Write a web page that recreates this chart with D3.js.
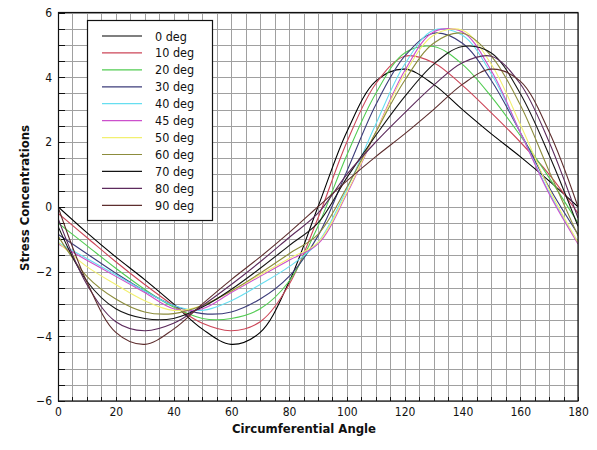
<!DOCTYPE html>
<html>
<head>
<meta charset="utf-8">
<script src="https://cdn.jsdelivr.net/npm/d3@7"></script>
<style>
  body { margin: 0; background: #fff; }
  svg { display: block; }
  text { font-family: "DejaVu Sans Condensed", "DejaVu Sans", sans-serif; fill: #111; }
</style>
</head>
<body>
<svg id="chart" width="597" height="450"></svg>
<script>
// Circumferential angle samples (degrees)
const angle = [0, 10, 20, 30, 40, 50, 60, 70, 80, 90, 100, 110, 120, 130, 140, 150, 160, 170, 180];

// Stress concentration around the hole, one series per fibre angle
const deg0  = [0, -0.8, -1.55, -2.25, -3.0, -3.78, -4.25, -3.88, -2.32, 0, 2.32, 3.88, 4.25, 3.78, 3.0, 2.25, 1.55, 0.8, 0];
const deg10 = [-0.2, -0.95, -1.7, -2.4, -3.05, -3.6, -3.83, -3.55, -2.4, -0.35, 2.0, 3.8, 4.65, 4.45, 3.75, 2.9, 2.0, 1.0, -0.2];
const deg20 = [-0.5, -1.2, -1.9, -2.55, -3.1, -3.45, -3.45, -3.15, -2.3, -0.6, 1.6, 3.5, 4.75, 4.95, 4.4, 3.4, 2.2, 0.9, -0.5];
const deg30 = [-0.85, -1.45, -2.05, -2.6, -3.05, -3.3, -3.25, -2.85, -2.15, -0.9, 1.1, 3.15, 4.65, 5.36, 5.05, 3.9, 2.3, 0.6, -0.85];
const deg40 = [-1.1, -1.6, -2.1, -2.6, -3.05, -3.2, -2.9, -2.4, -1.85, -1.1, 0.55, 2.55, 4.4, 5.45, 5.3, 4.1, 2.3, 0.45, -1.1];
const deg45 = [-1.15, -1.65, -2.15, -2.65, -3.15, -3.15, -2.65, -2.15, -1.65, -1.15, 0.4, 2.3, 4.2, 5.4, 5.4, 4.2, 2.3, 0.4, -1.15];
const deg50 = [-1.1, -1.85, -2.4, -2.9, -3.2, -3.05, -2.6, -2.1, -1.6, -1.1, 0.45, 2.3, 4.1, 5.3, 5.45, 4.4, 2.55, 0.55, -1.1];
const deg60 = [-0.9, -2.15, -2.85, -3.25, -3.3, -3.05, -2.6, -2.05, -1.45, -0.85, 0.6, 2.3, 3.9, 5.05, 5.36, 4.65, 3.15, 1.1, -0.9];
const deg70 = [-0.6, -2.3, -3.15, -3.45, -3.45, -3.1, -2.55, -1.9, -1.2, -0.5, 0.9, 2.2, 3.4, 4.4, 4.95, 4.75, 3.5, 1.6, -0.6];
const deg80 = [-0.35, -2.4, -3.55, -3.83, -3.6, -3.05, -2.4, -1.7, -0.95, -0.2, 1.0, 2.0, 2.9, 3.75, 4.45, 4.65, 3.8, 2.0, -0.35];
const deg90 = [0, -2.32, -3.88, -4.25, -3.78, -3.0, -2.25, -1.55, -0.8, 0, 0.8, 1.55, 2.25, 3.0, 3.78, 4.25, 3.88, 2.32, 0];

const seriesNames  = ["0 deg", "10 deg", "20 deg", "30 deg", "40 deg", "45 deg", "50 deg", "60 deg", "70 deg", "80 deg", "90 deg"];
const seriesValues = [deg0, deg10, deg20, deg30, deg40, deg45, deg50, deg60, deg70, deg80, deg90];
const seriesColors = ["#000000", "#cc4658", "#52cc52", "#3c3c7a", "#66def0", "#cc50cc",
                      "#f2f070", "#8c8c3c", "#141414", "#5c2a5c", "#5e2e2e"];

const xTicks = [0, 20, 40, 60, 80, 100, 120, 140, 160, 180];
const yTicks = [-6, -4, -2, 0, 2, 4, 6];

const svg = d3.select("#chart");
const plotL = 58, plotR = 578, plotT = 12.5, plotB = 401;

const x = d3.scaleLinear().domain([0, 180]).range([plotL, plotR]);
const y = d3.scaleLinear().domain([-6, 6]).range([plotB, plotT]);

// Fine grid: every 5 degrees, every 0.5 units
const xGrid = d3.range(0, 180.01, 5);
const yGrid = d3.range(-6, 6.01, 0.5);

const grid = svg.append("g").attr("stroke", "#a0a0a0").attr("stroke-width", 1).attr("shape-rendering", "crispEdges");
grid.selectAll("line.v").data(xGrid).join("line").attr("class", "v")
  .attr("x1", d => Math.round(x(d)) + 0.5).attr("x2", d => Math.round(x(d)) + 0.5)
  .attr("y1", plotT).attr("y2", plotB);
grid.selectAll("line.h").data(yGrid).join("line").attr("class", "h")
  .attr("y1", d => Math.round(y(d)) + 0.5).attr("y2", d => Math.round(y(d)) + 0.5)
  .attr("x1", plotL).attr("x2", plotR);

// Inward ticks on the left and bottom edges
const yTickAxis = svg.append("g").attr("transform", `translate(${plotL},0)`)
  .call(d3.axisRight(y).tickValues(yGrid).tickSize(7).tickFormat(""));
const xTickAxis = svg.append("g").attr("transform", `translate(0,${plotB})`)
  .call(d3.axisTop(x).tickValues(xGrid).tickSize(4).tickFormat(""));
[yTickAxis, xTickAxis].forEach(g => {
  g.select(".domain").remove();
  g.selectAll("line").attr("stroke", "#111").attr("shape-rendering", "crispEdges");
});

// Tick labels
const yLab = svg.append("g").attr("transform", `translate(${plotL},0)`)
  .call(d3.axisLeft(y).tickValues(yTicks).tickSize(0).tickPadding(6));
const xLab = svg.append("g").attr("transform", `translate(0,${plotB})`)
  .call(d3.axisBottom(x).tickValues(xTicks).tickSize(0).tickPadding(6));
[yLab, xLab].forEach(g => {
  g.select(".domain").remove();
  g.selectAll("text").attr("font-size", 12).attr("fill", "#222")
    .style("font-family", '"DejaVu Sans Condensed", "DejaVu Sans", sans-serif');
});

// Curves
svg.append("clipPath").attr("id", "plotClip").append("rect")
  .attr("x", plotL).attr("y", plotT).attr("width", plotR - plotL).attr("height", plotB - plotT);

const line = d3.line()
  .x((d, i) => x(angle[i]))
  .y(d => y(d))
  .curve(d3.curveCatmullRom.alpha(0.5));

svg.append("g").attr("clip-path", "url(#plotClip)")
  .selectAll("path").data(seriesValues).join("path")
  .attr("d", d => line(d))
  .attr("fill", "none")
  .attr("stroke", (d, i) => seriesColors[i])
  .attr("stroke-width", 1.1);

// Plot frame
svg.append("rect")
  .attr("x", plotL + 0.5).attr("y", plotT).attr("width", plotR - plotL - 0.5).attr("height", plotB - plotT)
  .attr("fill", "none").attr("stroke", "#111").attr("stroke-width", 1.2);

// Legend
const legend = svg.append("g");
legend.append("rect")
  .attr("x", 87.5).attr("y", 20.5).attr("width", 125).attr("height", 200)
  .attr("fill", "#fff").attr("stroke", "#111").attr("stroke-width", 1.2);
const rowY = i => 36 + i * 16.93;
legend.selectAll("line").data(seriesNames).join("line")
  .attr("x1", 102).attr("x2", 142)
  .attr("y1", (d, i) => rowY(i)).attr("y2", (d, i) => rowY(i))
  .attr("stroke", (d, i) => seriesColors[i]).attr("stroke-width", 1.2);
legend.selectAll("text").data(seriesNames).join("text")
  .attr("x", 155).attr("y", (d, i) => rowY(i)).attr("dy", "0.36em")
  .attr("font-size", 12.5).text(d => d);

// Axis titles
svg.append("text")
  .attr("x", 304).attr("y", 433)
  .attr("text-anchor", "middle").attr("font-weight", "bold").attr("font-size", 13)
  .text("Circumferential Angle");
svg.append("text")
  .attr("transform", "translate(29,198) rotate(-90)")
  .attr("text-anchor", "middle").attr("font-weight", "bold").attr("font-size", 13)
  .text("Stress Concentrations");
</script>
</body>
</html>
